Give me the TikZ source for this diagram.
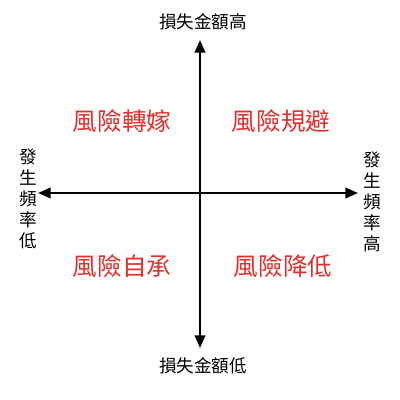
\documentclass[tikz,border=0pt]{standalone}
\usepackage{fontspec}
\setmainfont{Noto Sans CJK TC}
\usetikzlibrary{arrows.meta}
\definecolor{riskred}{RGB}{228,48,44}
\tikzset{
    axis/.style={line width=1.5pt, {Triangle[length=9pt,width=7.5pt]}-{Triangle[length=9pt,width=7.5pt]}},
    axislabel/.style={font=\fontsize{12.5}{15}\selectfont, inner sep=0pt, align=center},
    quadrant/.style={font=\fontsize{17.5}{20}\selectfont, text=riskred, inner sep=0pt}
}
\begin{document}
\begin{tikzpicture}[x=0.025cm, y=-0.025cm]
    \useasboundingbox (0,0) rectangle (400,400);
    \coordinate (top) at (200,40);
    \coordinate (bottom) at (200,348);
    \coordinate (left) at (38,193);
    \coordinate (right) at (358,193);

    \draw[axis] (bottom) -- (top);
    \draw[axis] (left) -- (right);

    \node[axislabel] (high loss) at (203,22) {損失金額高};
    \node[axislabel] (low loss) at (203,366) {損失金額低};
    \node[axislabel] (low freq) at (28,199) {發\\生\\頻\\率\\低};
    \node[axislabel] (high freq) at (372,202) {發\\生\\頻\\率\\高};

    \node[quadrant] (transfer) at (122,121) {風險轉嫁};
    \node[quadrant] (avoid) at (281,121) {風險規避};
    \node[quadrant] (retain) at (122,266) {風險自承};
    \node[quadrant] (reduce) at (283,266) {風險降低};
\end{tikzpicture}
\end{document}
